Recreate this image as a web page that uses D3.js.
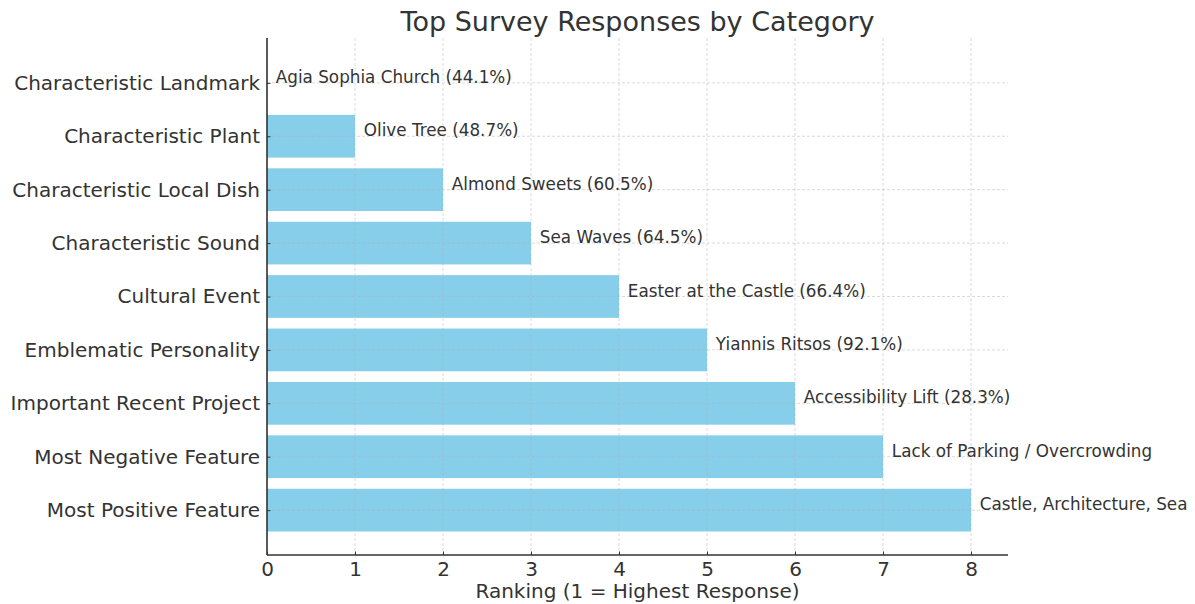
<!DOCTYPE html>
<html><head><meta charset="utf-8">
<script src="https://cdn.jsdelivr.net/npm/d3@7"></script>
<style>body{margin:0;background:#fff;} text{font-family:"DejaVu Sans",sans-serif;}</style>
</head><body>
<svg id="c" width="1195" height="604"></svg>
<script>
const categories = ["Most Positive Feature","Most Negative Feature","Important Recent Project","Emblematic Personality","Cultural Event","Characteristic Sound","Characteristic Local Dish","Characteristic Plant","Characteristic Landmark"];
const rankings = [8,7,6,5,4,3,2,1,0];
const responses = ["Castle, Architecture, Sea","Lack of Parking / Overcrowding","Accessibility Lift (28.3%)","Yiannis Ritsos (92.1%)","Easter at the Castle (66.4%)","Sea Waves (64.5%)","Almond Sweets (60.5%)","Olive Tree (48.7%)","Agia Sophia Church (44.1%)"];
const xTicks = [0,1,2,3,4,5,6,7,8];

const svg = d3.select("#c");
const L = 267, R = 1008, T = 38, B = 555;
const x = d3.scaleLinear().domain([0, 8.42]).range([L, R]);
const y = d3.scaleLinear().domain([-0.84, 8.84]).range([B, T]);
const barH = y(0) - y(0.8);
const txt = "#333";

// bars
svg.selectAll("rect.bar").data(categories).join("rect")
  .attr("x", x(0)).attr("y", (d,i)=>y(i+0.4))
  .attr("width", (d,i)=>x(rankings[i]) - x(0)).attr("height", barH)
  .attr("fill", "#87CEEB");

// grid
const g = svg.append("g").attr("stroke","#b0b0b0").attr("stroke-opacity",0.6).attr("stroke-dasharray","3,2").attr("stroke-width",0.8);
xTicks.forEach(t=>g.append("line").attr("x1",x(t)).attr("x2",x(t)).attr("y1",T).attr("y2",B));
categories.forEach((c,i)=>g.append("line").attr("x1",L).attr("x2",R).attr("y1",y(i)).attr("y2",y(i)));

// axes
const xa = svg.append("g").attr("transform",`translate(0,${B})`)
  .call(d3.axisBottom(x).tickValues(xTicks).tickFormat(d3.format("d")).tickSizeInner(-3.5).tickSizeOuter(0).tickPadding(7));
xa.select(".domain").remove();
xa.selectAll("line").attr("stroke",txt);
xa.selectAll("text").attr("font-size",20).attr("fill",txt);

const ya = svg.append("g").attr("transform",`translate(${L},0)`)
  .call(d3.axisLeft(y).tickValues(d3.range(categories.length)).tickFormat(i=>categories[i]).tickSizeInner(-3.5).tickSizeOuter(0).tickPadding(7));
ya.select(".domain").remove();
ya.selectAll("line").attr("stroke",txt);
ya.selectAll("text").attr("font-size",20).attr("fill",txt);

svg.append("line").attr("x1",L).attr("x2",L).attr("y1",T).attr("y2",B).attr("stroke",txt).attr("stroke-width",1.6);
svg.append("line").attr("x1",L).attr("x2",R).attr("y1",B).attr("y2",B).attr("stroke",txt).attr("stroke-width",1.6);

// value labels
svg.selectAll("text.lbl").data(responses).join("text")
  .attr("x",(d,i)=>x(rankings[i]+0.1)).attr("y",(d,i)=>y(i))
  .attr("font-size",16.8).attr("fill",txt).text(d=>d);

// title & xlabel
svg.append("text").attr("x",(L+R)/2).attr("y",31).attr("text-anchor","middle").attr("font-size",27).attr("fill",txt).text("Top Survey Responses by Category");
svg.append("text").attr("x",(L+R)/2).attr("y",598).attr("text-anchor","middle").attr("font-size",20).attr("fill",txt).text("Ranking (1 = Highest Response)");
</script>
</body></html>
